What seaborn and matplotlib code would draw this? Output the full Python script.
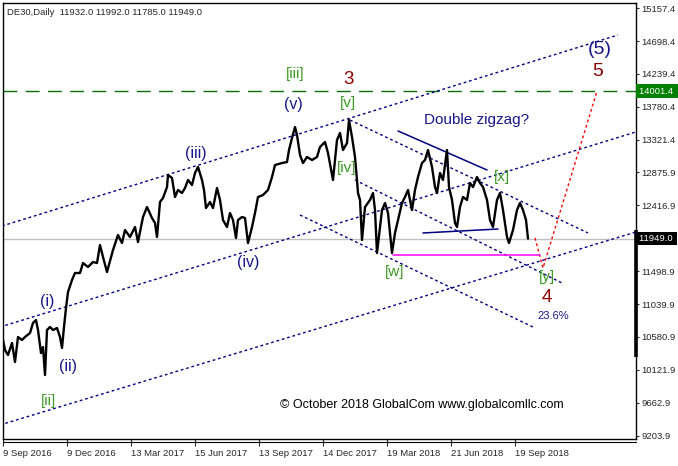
import matplotlib
matplotlib.use("Agg")
import matplotlib.pyplot as plt
import matplotlib.transforms as mtransforms
import seaborn as sns
import pandas as pd

# =============================
# DATA (x = bar number from 9 Sep 2016)
# =============================
bar_idx = [0, 2, 5, 9, 12, 15, 19, 22, 27, 30, 33, 35, 38, 40, 42, 44, 47, 50, 54, 57,
           59, 61, 63, 65, 69, 72, 77, 80, 85, 90, 94, 97, 100, 104, 110, 115, 119, 122,
           127, 132, 135, 140, 144, 149, 152, 154, 157, 160, 164, 165, 169, 172, 175, 179,
           182, 185, 189, 192, 195, 199, 201, 203, 207, 210, 214, 217, 220, 224, 227, 230,
           233, 235, 239, 242, 245, 249, 252, 255, 260, 265, 269, 272, 279, 284, 286, 289,
           292, 294, 297, 300, 304, 309, 314, 317, 322, 325, 330, 334, 337, 340, 344, 346,
           349, 352, 354, 355, 357, 359, 362, 367, 370, 372, 374, 379, 382, 385, 389, 392,
           395, 399, 402, 405, 409, 412, 415, 419, 422, 425, 429, 432, 434, 437, 440, 444,
           446, 449, 452, 454, 457, 460, 464, 467, 470, 474, 477, 480, 484, 487, 490, 494,
           497, 500, 504, 506, 510, 514, 517, 520, 523, 525]
close = [10539, 10400, 10330, 10497, 10233, 10581, 10539, 10581, 10636, 10776, 10817, 10678,
         10358, 10441, 10052, 10678, 10720, 10678, 10706, 10581, 10428, 10720, 10984, 11207,
         11374, 11471, 11471, 11610, 11555, 11624, 11610, 11860, 11694, 11485, 11791, 12000,
         11888, 12069, 11972, 12111, 11902, 12250, 12389, 12236, 12167, 11972, 12459, 12514,
         12667, 12834, 12793, 12528, 12626, 12584, 12654, 12765, 12695, 12862, 12946, 12765,
         12626, 12375, 12459, 12375, 12654, 12487, 12208, 12111, 12306, 12208, 11958, 12208,
         12250, 12236, 11888, 12111, 12306, 12528, 12556, 12626, 12806, 12973, 13001, 13015,
         13182, 13349, 13502, 13391, 13112, 13001, 13085, 13043, 13085, 13224, 13293, 13140,
         12765, 13321, 13419, 13182, 13279, 13599, 13363, 13085, 12765, 12584, 12487, 11930,
         12389, 12487, 12584, 12347, 11749, 12347, 12445, 12306, 11749, 12028, 12208, 12445,
         12528, 12626, 12347, 12626, 12806, 13001, 13043, 13182, 12946, 12667, 12584, 12862,
         12765, 13182, 12667, 12487, 12167, 12111, 12389, 12528, 12487, 12723, 12667, 12806,
         12723, 12667, 12487, 12208, 12111, 12487, 12584, 12347, 11972, 11888, 12069, 12347,
         12445, 12347, 12208, 11949]

date_ticks = [0, 64, 128, 192, 256, 320, 384, 448, 512]
date_labels = ['9 Sep 2016', '9 Dec 2016', '13 Mar 2017', '15 Jun 2017', '13 Sep 2017',
               '14 Dec 2017', '19 Mar 2018', '21 Jun 2018', '19 Sep 2018']
price_ticks = [15157.4, 14698.4, 14239.4, 13780.4, 13321.4, 12875.9, 12416.9,
               11498.9, 11039.9, 10580.9, 10121.9, 9662.9, 9203.9]

target_level = 14001.4
last_price = 11949.0
w_low = 11727

# channel / trend lines: [bar_start, bar_end], [price_start, price_end]
up_top_x, up_top_y = [-1, 615], [12125, 14782]
up_mid_x, up_mid_y = [-3, 633], [10720, 13433]
up_low_x, up_low_y = [-3, 633], [9357, 12042]
dn_top_x, dn_top_y = [347, 585], [13599, 12028]
dn_mid_x, dn_mid_y = [352, 559], [12765, 11332]
dn_low_x, dn_low_y = [297, 532], [12278, 10706]
trend_x, trend_y = [395, 484], [13447, 12904]
flat_x, flat_y = [420, 495], [12028, 12083]
w_low_x = [390, 537]
proj_x, proj_y = [532, 540, 594], [11958, 11541, 14001.4]

# wave labels: text, bar, price, colour, size
NAVY = '#16168a'
GREEN = '#3a9a20'
DRED = '#8b0000'
wave_labels = [
    ('(i)', 44, 11070, NAVY, 11.5), ('(ii)', 65, 10164, NAVY, 11.5),
    ('[ii]', 45, 9690, GREEN, 11), ('(iii)', 193, 13140, NAVY, 11.5),
    ('(iv)', 245, 11624, NAVY, 11.5), ('(v)', 290, 13822, NAVY, 11.5),
    ('[iii]', 292, 14239, GREEN, 11), ('3', 346, 14156, DRED, 13.5),
    ('[v]', 345, 13836, GREEN, 11), ('[iv]', 344, 12932, GREEN, 11),
    ('[w]', 392, 11485, GREEN, 11), ('[x]', 499, 12807, GREEN, 11),
    ('[y]', 544, 11416, GREEN, 11), ('4', 544, 11124, DRED, 13.5),
    ('5', 595, 14281, DRED, 14), ('(5)', 597, 14587, NAVY, 14),
]

# =============================
# FIGURE
# =============================
sns.set_style('white')
plt.rcParams['font.family'] = ['Liberation Sans', 'DejaVu Sans']

fig = plt.figure(figsize=(6.78, 4.66), dpi=100)
ax = fig.add_axes([2.5 / 678, 27 / 466, 633.5 / 678, 436.5 / 466])

df = pd.DataFrame({'bar': bar_idx, 'close': close})
sns.lineplot(data=df, x='bar', y='close', color='black', linewidth=1.7, ax=ax, zorder=5)

dot = (0, (2, 2))
for xs, ys in [(up_top_x, up_top_y), (up_mid_x, up_mid_y), (up_low_x, up_low_y),
               (dn_top_x, dn_top_y), (dn_mid_x, dn_mid_y), (dn_low_x, dn_low_y)]:
    ax.plot(xs, ys, color='#000080', linewidth=1.0, linestyle=dot, zorder=3)
ax.plot(trend_x, trend_y, color='#000080', linewidth=1.1, zorder=3)
ax.plot(flat_x, flat_y, color='#000080', linewidth=1.1, zorder=6)
ax.plot(w_low_x, [w_low, w_low], color='#ff00ff', linewidth=1.1, zorder=6)
ax.plot(proj_x, proj_y, color='red', linewidth=1.0, linestyle=dot, zorder=4)

ax.axhline(target_level, color='#0b6e0b', linewidth=1.0, linestyle=(0, (10, 6)), zorder=2)
ax.axhline(last_price, color='#c0c0c0', linewidth=1.0, zorder=1)

for txt, bx, py, col, fs in wave_labels:
    ax.text(bx, py, txt, color=col, fontsize=fs, ha='center', va='center', zorder=7)

ax.text(474, 13600, 'Double zigzag?', color=NAVY, fontsize=11, ha='center', va='center')
ax.text(550, 10874, '23.6%', color=NAVY, fontsize=8, ha='center', va='center')
ax.text(419, 9635, '\u00a9 October 2018 GlobalCom www.globalcomllc.com',
        color='black', fontsize=9, ha='center', va='center')
ax.text(0.007, 0.988, 'DE30,Daily  11932.0 11992.0 11785.0 11949.0',
        transform=ax.transAxes, fontsize=6.8, ha='left', va='top')

# =============================
# AXES
# =============================
ax.set_xlim(-0.5, 633)
ax.set_ylim(9162, 15234)
ax.set_xlabel('')
ax.set_ylabel('')

ax.set_xticks(date_ticks)
ax.set_xticklabels(date_labels, fontsize=6.8)
for lbl in ax.get_xticklabels():
    lbl.set_horizontalalignment('left')
ax.tick_params(axis='x', direction='out', length=5, width=0.8, pad=2, bottom=True)

ax.yaxis.tick_right()
ax.set_yticks(price_ticks)
ax.set_yticklabels([f'{p:.1f}' for p in price_ticks], fontsize=6.8)
ax.tick_params(axis='y', direction='out', length=2.5, width=0.8, pad=1.5, right=True)

for sp in ax.spines.values():
    sp.set_color('black')
    sp.set_linewidth(1.0)

# price-scale boxes for the target level and the last price
trans = mtransforms.blended_transform_factory(ax.transAxes, ax.transData)
ax.text(1.004, target_level, '14001.4 ', transform=trans, fontsize=6.8, color='white',
        ha='left', va='center', bbox=dict(facecolor='#008000', edgecolor='none', pad=1.6))
ax.text(1.004, last_price, '11949.0 ', transform=trans, fontsize=6.8, color='white',
        ha='left', va='center', bbox=dict(facecolor='black', edgecolor='none', pad=1.6))
ax.plot([1.0, 1.0], [12069, 10303], transform=trans, color='black', linewidth=2.6,
        clip_on=False, solid_capstyle='butt')

# second frame line under the chart (scrollbar strip)
ax.plot([0, 1], [-0.006, -0.006], transform=ax.transAxes, color='black',
        linewidth=0.8, clip_on=False)

plt.savefig('out.png', dpi=100)
plt.close()
